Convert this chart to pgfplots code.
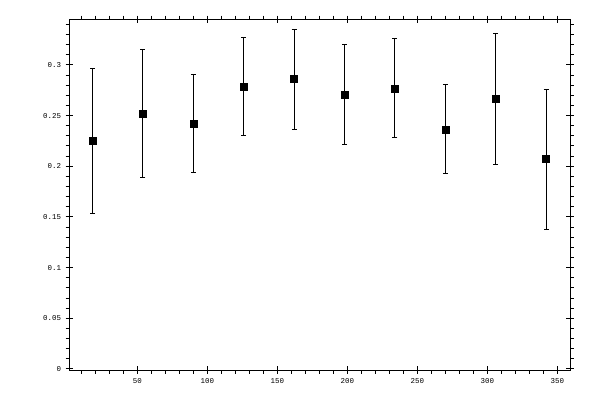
\documentclass[border=0pt]{standalone}
\usepackage{pgfplots}
\pgfplotsset{compat=1.18}
\usepackage{fontspec}
\setmainfont{Liberation Mono}
\pgfplotsset{frame/.style={
  at={(69.3bp,30bp)}, anchor=south west,
  scale only axis, width=500.7bp, height=350.7bp,
  xmin=1.4, xmax=359.1, ymin=-0.001, ymax=0.345,
  xtick={50,100,150,200,250,300,350},
  ytick={0,0.05,0.1,0.15,0.2,0.25,0.3},
  tick style={black, line width=1bp},
  axis line style={line width=1bp},
}}
\begin{document}
\begin{tikzpicture}
\useasboundingbox (0,0) rectangle (600bp,400bp);
% outward ticks, minor and major, with labels
\begin{axis}[frame,
  minor xtick={10,20,30,40,60,70,80,90,110,120,130,140,160,170,180,190,
    210,220,230,240,260,270,280,290,310,320,330,340},
  minor ytick={0.01,0.02,0.03,0.04,0.06,0.07,0.08,0.09,0.11,0.12,0.13,0.14,
    0.16,0.17,0.18,0.19,0.21,0.22,0.23,0.24,0.26,0.27,0.28,0.29,
    0.31,0.32,0.33,0.34},
  tick align=outside, major tick length=3.7bp, minor tick length=3.7bp,
  /pgf/number format/assume math mode=true,
  /pgf/number format/fixed,
  ticklabel style={font=\fontsize{7.5}{8}\selectfont},
  xticklabel style={yshift=-1.5bp},
  yticklabel style={xshift=-1bp},
]
\addplot[only marks, mark=square*, mark size=3.5bp, black,
  error bars/.cd, y dir=both, y explicit,
  error bar style={line width=1bp, black},
  error mark options={rotate=90, mark size=2.5bp, line width=1bp, black}]
  table[x=x, y=y, y error=e] {
x y e
18 0.2249 0.0711
54 0.2522 0.0631
90 0.2423 0.0483
126 0.2788 0.0481
162 0.2860 0.0493
198 0.2709 0.0490
234 0.2768 0.0488
270 0.2364 0.0439
306 0.2663 0.0650
342 0.2071 0.0690
};
\end{axis}
% inward half of the major ticks
\begin{axis}[frame,
  tick align=inside, major tick length=4bp,
  xticklabels={}, yticklabels={},
]
\end{axis}
\end{tikzpicture}
\end{document}
